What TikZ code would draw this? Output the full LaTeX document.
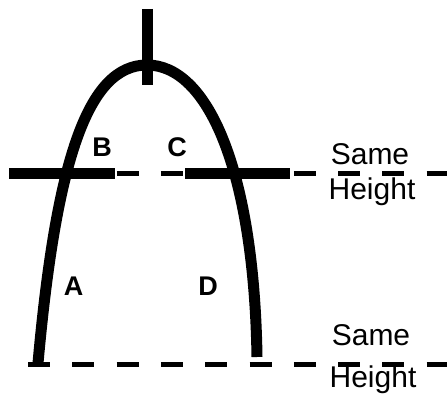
\documentclass[tikz,border=0pt]{standalone}
\usepackage{fontspec}
\setmainfont{Liberation Sans}
\usetikzlibrary{calc}

\begin{document}
\begin{tikzpicture}[x=1pt,y=-1pt,
    heavy/.style={line width=11pt},
    dashline/.style={line width=5pt, dash pattern=on 22pt off 22.3pt},
    letter/.style={anchor=base, font=\fontsize{27}{30}\selectfont\bfseries, inner sep=0pt},
    word/.style={anchor=base, font=\fontsize{30}{34}\selectfont, inner sep=0pt}]
        \useasboundingbox (0,0) rectangle (447,395);

        % apex of the arch and the two feet
        \coordinate (T) at (147,65);
        \coordinate (L) at (38,363);
        \coordinate (R) at (257,357);

        % the arch
        \draw[heavy] (L) .. controls (56,163) and (87,65) .. (T)
                         .. controls (207,65) and (254,168) .. (R);

        % vertical post at the top
        \draw[heavy] (147,9) -- (147,85);

        % upper level: dashed line with two solid pieces
        \draw[dashline] (28,174) -- (447,174);
        \draw[heavy] (9,174) -- (115,174);
        \draw[heavy] (185,174) -- (290,174);

        % lower level
        \draw[dashline] (28,364.5) -- (447,364.5);

        \node[letter] (a) at (73.5,295) {A};
        \node[letter] (b) at (102,157) {B};
        \node[letter] (c) at (177,157) {C};
        \node[letter] (d) at (208,295) {D};

        \node[word] (same1) at (370,165) {Same};
        \node[word] (height1) at (372,200) {Height};
        \node[word] (same2) at (371,345) {Same};
        \node[word] (height2) at (373,387) {Height};
    \end{tikzpicture}
\end{document}
